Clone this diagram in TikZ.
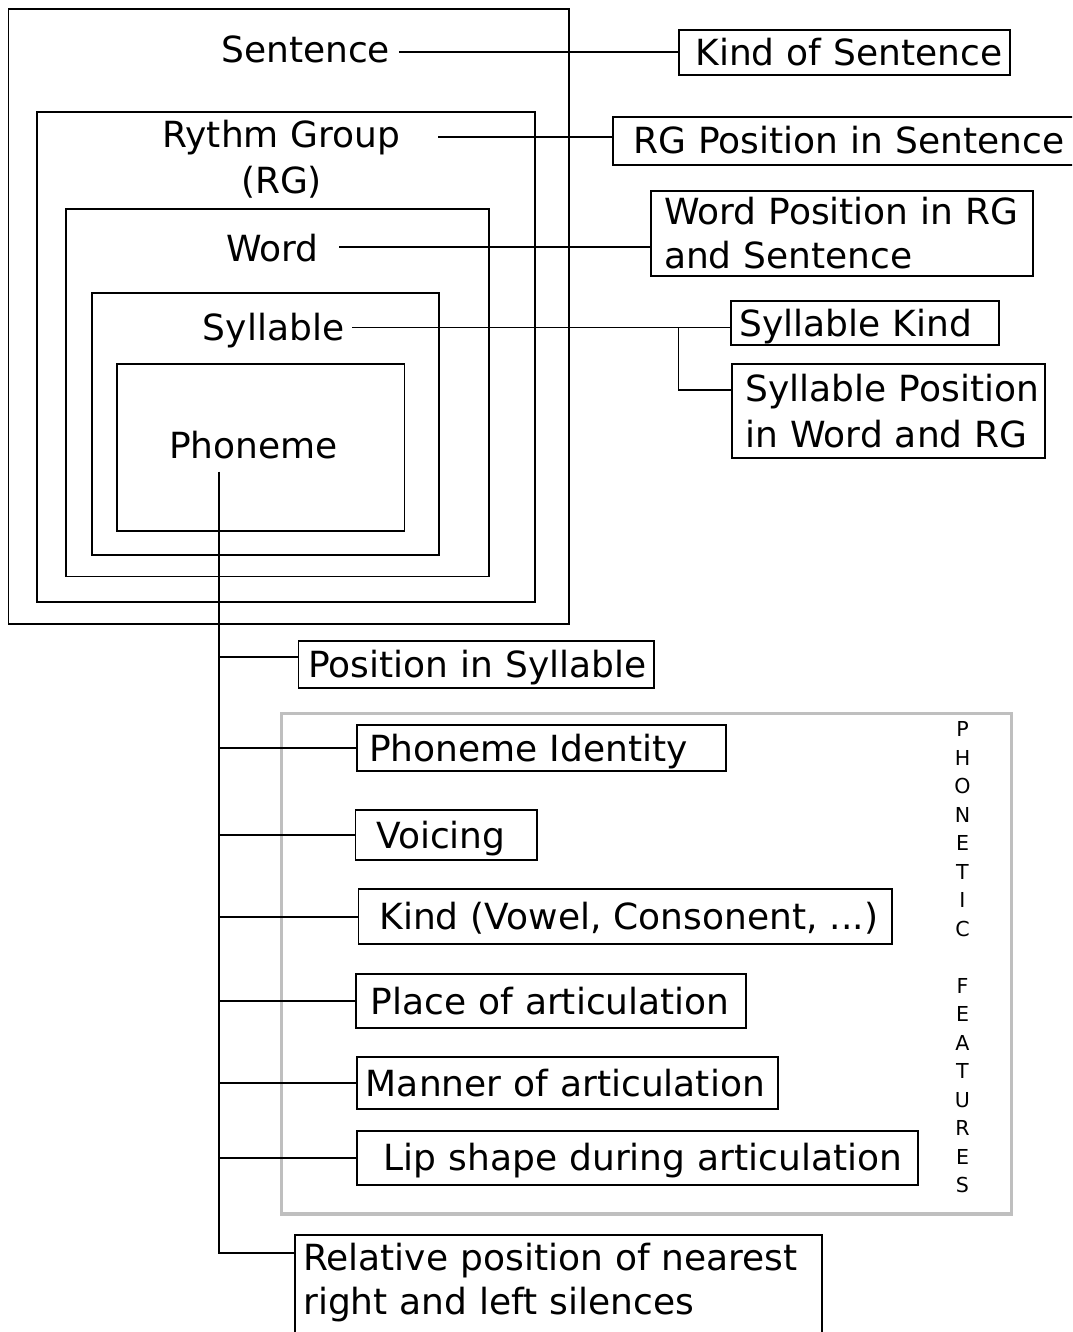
\documentclass[tikz,border=0pt]{standalone}
\usepackage{fontspec}
\setmainfont{DejaVu Sans}
\newcommand{\boxfont}{\fontsize{18}{22.5}\selectfont}
\newcommand{\sidefont}{\fontsize{10.3}{14.25}\selectfont}
\tikzset{
  unitlabel/.style={inner sep=0pt, text height=13pt, text depth=0pt, font=\boxfont},
  infobox/.style={draw, align=left, inner ysep=0pt, text height=13pt, text depth=0pt, font=\boxfont,
    execute at begin node={\rightskip=0pt plus 1fil minus 40pt}},
  nestbox/.style={draw},
  featframe/.style={draw=black!25, line width=1.6pt},
}
\begin{document}
\begin{tikzpicture}[x=0.5pt, y=-0.5pt, line width=0.9pt]
  \useasboundingbox (0,0) rectangle (1072,1332);
  \clip (0,0) rectangle (1072,1332);
  % nested units
  \draw[nestbox] (8.4,9.3) rectangle (569,624.3);
  \draw[nestbox] (37.1,112) rectangle (534.6,602);
  \draw[nestbox] (66.2,209) rectangle (489,576.5);
  \draw[nestbox] (91.8,293.3) rectangle (439.3,555);
  \draw[nestbox] (117.1,364) rectangle (404.5,531);
  \node[unitlabel] (sent) at (305.6,49.2) {Sentence};
  \node[unitlabel, align=center, text width=124pt, text depth=23.25pt] (rg) at (281.5,157.75) {Rythm Group\\[0.75pt](RG)};
  \node[unitlabel] (word) at (272.3,248.3) {Word};
  \node[unitlabel] (syll) at (273.6,327.5) {Syllable};
  \node[unitlabel] (phon) at (253.5,445.5) {Phoneme};
  % unit features
  \node[infobox, inner xsep=8.25pt, text width=149pt, minimum height=22.5pt] (kindsent) at (844.5,52.5) {Kind of Sentence};
  \node[infobox, inner xsep=10.25pt, text width=212pt, minimum height=24pt] (rgpos) at (845.5,141) {RG Position in Sentence};
  \node[infobox, inner xsep=6.5pt, text width=178pt, minimum height=42.5pt, text depth=22pt] (wordpos) at (842,233.5) {Word Position in RG\\[-0.5pt]and Sentence};
  \node[infobox, inner xsep=4.3pt, text width=125.4pt, minimum height=22pt] (syllkind) at (865,323) {Syllable Kind};
  \node[infobox, inner xsep=6.8pt, text width=142.9pt, minimum height=47pt, text depth=23pt] (syllpos) at (888.5,411) {Syllable Position\\[0.5pt]in Word and RG};
  % phoneme features
  \draw[featframe] (281.3,713.3) rectangle (1011.4,1214);
  \node[font=\sidefont, align=center, text width=12pt, inner sep=0pt, text height=7.5pt, text depth=228pt] (phonfeat) at (962.5,957.3) {P\\H\\O\\N\\E\\T\\I\\C\\[14.25pt]F\\E\\A\\T\\U\\R\\E\\S};
  \node[infobox, inner xsep=5pt, text width=167.75pt, minimum height=23.8pt] (possyl) at (476.2,664.5) {Position in Syllable};
  \node[infobox, inner xsep=6pt, text width=172.4pt, minimum height=23pt] (phonid) at (541.4,748.3) {Phoneme Identity};
  \node[infobox, inner xsep=10.4pt, text width=69.9pt, minimum height=25pt] (voicing) at (446.1,835) {Voicing};
  \node[infobox, inner xsep=10.5pt, text width=245.8pt, minimum height=27.35pt] (kindvow) at (625.2,916.7) {Kind (Vowel, Consonent, ...)};
  \node[infobox, inner xsep=7.5pt, text width=180.35pt, minimum height=26.7pt] (place) at (551,1001) {Place of articulation};
  \node[infobox, inner xsep=4.65pt, text width=201.3pt, minimum height=26.3pt] (manner) at (567.2,1083) {Manner of articulation};
  \node[infobox, inner xsep=13.3pt, text width=253.9pt, minimum height=27.15pt] (lip) at (637.7,1157.9) {Lip shape during articulation};
  \node[infobox, anchor=north west, inner xsep=4pt, inner ysep=4.5pt, text width=255.4pt, text depth=34pt] (relpos) at (294.3,1234.3) {Relative position of nearest\\[-0.5pt]right and left silences};
  % links
  \coordinate (sentout) at ([xshift=4pt,yshift=-1.25pt]sent.east);
  \draw (sentout) -- (sentout -| kindsent.west);
  \coordinate (rgout) at ([xshift=16pt,yshift=10.2pt]rg.east);
  \draw (rgout) -- (rgout -| rgpos.west);
  \coordinate (wordout) at ([xshift=10pt,yshift=0.5pt]word.east);
  \draw (wordout) -- (wordout -| wordpos.west);
  \coordinate (syllout) at ([xshift=3.5pt]syll.east);
  \draw (syllout) -- (syllout -| syllkind.west);
  \path (syllout -| syllkind.west) ++(-51.7,0) coordinate (syllfork);
  \draw (syllfork) |- ([yshift=10.5pt]syllpos.west);
  \coordinate (trunktop) at (218.9,471.7);
  \coordinate (relin) at ([yshift=-9.5pt]relpos.north west);
  \draw (trunktop) |- (relin);
  \coordinate (possin) at ([yshift=3.6pt]possyl.west);
  \draw (possin) -- (possin -| trunktop);
  \foreach \n in {phonid,voicing,kindvow,place,manner,lip}
    \draw (\n.west) -- (\n.west -| trunktop);
\end{tikzpicture}
\end{document}
